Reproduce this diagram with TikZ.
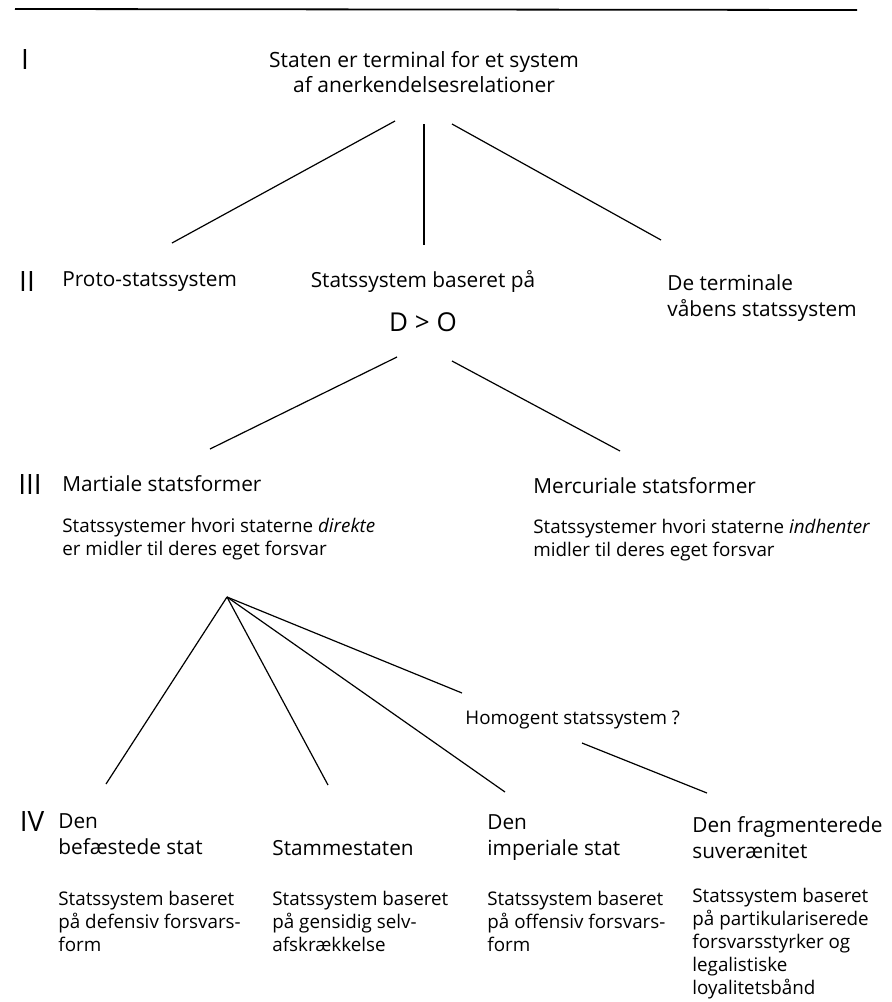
\documentclass[tikz,border=0pt]{standalone}
\usepackage{fontspec}
\setmainfont{Open Sans}
\usetikzlibrary{calc}

\begin{document}
\begin{tikzpicture}[x=0.5pt, y=-0.5pt,
    title/.style={anchor=west, inner sep=0pt, align=left, font=\fontsize{10.4}{13}\selectfont},
    desc/.style={anchor=west, inner sep=0pt, align=left, font=\fontsize{9.4}{11.5}\selectfont},
    level/.style={inner sep=0pt, font=\fontsize{14}{14}\selectfont},
    branch/.style={line width=0.6pt},
    rule/.style={line width=0.9pt}]

\useasboundingbox (0,0) rectangle (891,1002);
\draw[rule] (15,9) -- (857,10);

% roman level numbers
\node[level] (lvlI) at (25,60) {I};
\node[level] (lvlII) at (27,282) {II};
\node[level] (lvlIII) at (30,484) {III};
\node[level] (lvlIV) at (32,821) {IV};

% level I
\node[title, anchor=center, align=center, font=\fontsize{10.5}{12.5}\selectfont] (top) at (424,72)
  {Staten er terminal for et system\\af anerkendelsesrelationer};

% level II
\node[title] (proto) at (62,282) {Proto-statssystem};
\node[title, anchor=center] (dsys) at (423,282) {Statssystem baseret på};
\node[title, anchor=center, font=\fontsize{13}{13}\selectfont] (dgo) at (423,322) {D > O};
\node[title] (terminal) at (667,298.5) {De terminale\\våbens statssystem};

\draw[branch] ($(top)+(-29,49)$) -- ($(proto.west)+(110,-39)$);
\draw[branch] ($(top)+(0,52)$) -- ($(dsys)+(1,-37)$);
\draw[branch] ($(top)+(28,52)$) -- ($(terminal.west)+(-6,-58.5)$);

% level III
\node[title] (martial) at (62,484) {Martiale statsformer};
\node[desc] (martialdesc) at (62,539)
  {Statssystemer hvori staterne \textit{direkte}\\er midler til deres eget forsvar};
\node[title] (mercurial) at (533,486) {Mercuriale statsformer};
\node[desc] (mercdesc) at (533,540.5)
  {Statssystemer hvori staterne \textit{indhenter}\\midler til deres eget forsvar};

\draw[branch] ($(dgo)+(-26,35)$) -- ($(martial.west)+(148,-35)$);
\draw[branch] ($(dgo)+(29,39)$) -- ($(mercurial.west)+(87,-35)$);

% level IV
\coordinate (fan) at (227,597);
\node[desc] (homog) at (465,720) {Homogent statssystem ?};
\node[title] (fortified) at (58,834.5) {Den\\befæstede stat};
\node[title] (tribal) at (272,848) {Stammestaten};
\node[title] (imperial) at (487,837.5) {Den\\imperiale stat};
\node[title] (fragmented) at (692,837.5) {Den fragmenterede\\suverænitet};

\node[desc] (fortdesc) at (58,921) {Statssystem baseret\\på defensiv forsvars-\\form};
\node[desc] (tribdesc) at (272,921) {Statssystem baseret\\på gensidig selv-\\afskrækkelse};
\node[desc] (impdesc) at (487,921) {Statssystem baseret\\på offensiv forsvars-\\form};
\node[desc] (fragdesc) at (692,944)
  {Statssystem baseret\\på partikulariserede\\forsvarsstyrker og\\legalistiske\\loyalitetsbånd};

\draw[branch] (fan) -- ($(fortified.west)+(48,-50.5)$);
\draw[branch] (fan) -- ($(tribal.west)+(56,-63)$);
\draw[branch] (fan) -- ($(imperial.west)+(18,-45.5)$);
\draw[branch] (fan) -- ($(homog.west)+(-3,-27)$);
\draw[branch] ($(homog.west)+(117,23)$) -- ($(fragmented.west)+(15,-44.5)$);
\end{tikzpicture}
\end{document}
